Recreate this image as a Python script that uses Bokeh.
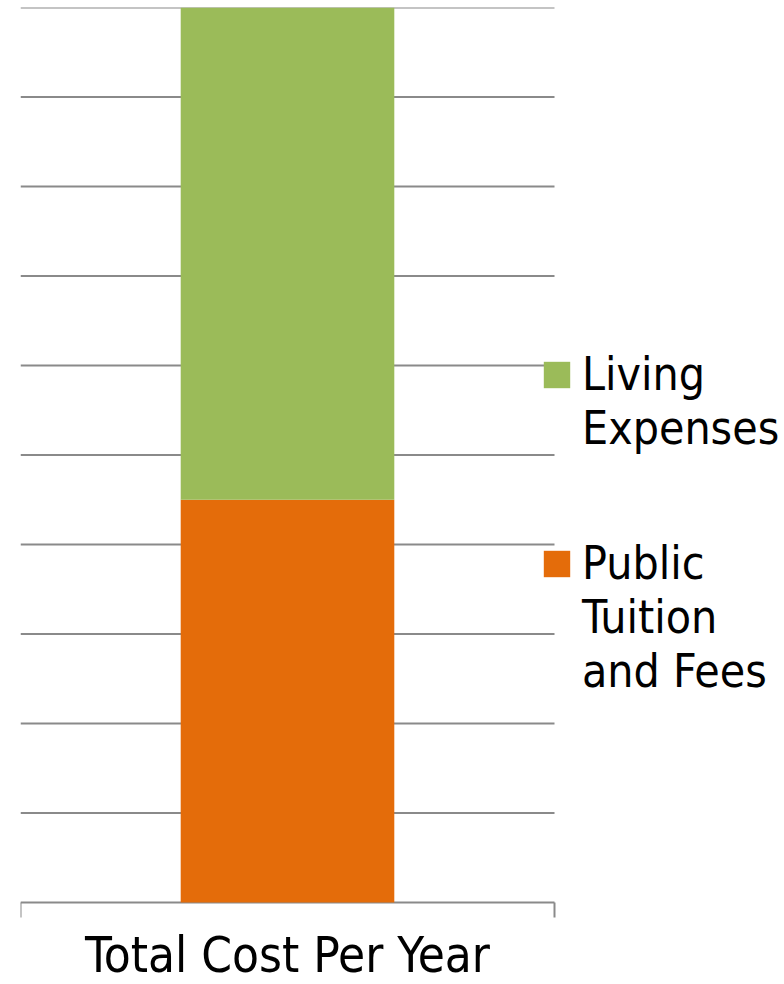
import math
from bokeh.plotting import figure
from bokeh.models import Range1d, Legend, LegendItem, ColumnDataSource
from bokeh.core.properties import value
from bokeh.embed import file_html
from bokeh.resources import INLINE

categories = ["Total Cost Per Year"]
series_names = ["Public\nTuition\nand Fees", "Living\nExpenses"]
tuition = [9000]
living = [11000]
y_ticks = [0, 2000, 4000, 6000, 8000, 10000, 12000, 14000, 16000, 18000, 20000]

colors = ["#E46C0A", "#9BBB59"]
grid_color = "#8a8a8a"
FONT = "DejaVu Sans Condensed"

# category band occupies [0, 1] on the x scale
cat_lo, cat_hi = 0.0, 1.0
cat_mid = (cat_lo + cat_hi) / 2

src = ColumnDataSource(dict(x=[cat_mid], tuition=tuition, living=living))

p = figure(width=784, height=984, output_backend="svg", toolbar_location=None,
           x_range=Range1d(cat_lo, 764 / 534), y_range=Range1d(-82 * 20000 / 895, 20000),
           min_border_left=20, min_border_right=0, min_border_top=7, min_border_bottom=0)
p.outline_line_color = None
p.background_fill_color = "white"
p.border_fill_color = "white"
p.axis.visible = False
p.grid.visible = False

# horizontal grid lines across the category band
p.segment(x0=[cat_lo] * len(y_ticks), x1=[cat_hi] * len(y_ticks), y0=y_ticks, y1=y_ticks,
          line_color=grid_color, line_width=2)

rs = p.vbar_stack(["tuition", "living"], x="x", width=0.40, color=colors, source=src,
                  line_color=None)

# category boundary tick marks below the baseline
p.ray(x=[cat_lo, cat_hi], y=[y_ticks[0], y_ticks[0]], length=15, length_units="screen",
      angle=-math.pi / 2, line_color=grid_color, line_width=2)

# category label
p.text(x=[cat_mid], y=[y_ticks[0]], text=categories, text_align="center",
       text_baseline="alphabetic", y_offset=53, text_font=value(FONT),
       text_font_size="49px", text_color="black")


def make_legend(name, renderer, pad_lines, loc):
    lg = Legend(items=[LegendItem(label="\n" * pad_lines + name, renderers=[renderer])],
                location=loc, orientation="vertical")
    lg.label_text_font = FONT
    lg.label_text_font_size = "46px"
    lg.label_text_color = "black"
    lg.glyph_width = 33
    lg.glyph_height = 33
    lg.label_standoff = 9
    lg.padding = 0
    lg.margin = 0
    lg.border_line_color = None
    lg.background_fill_alpha = 0
    p.add_layout(lg, "center")


make_legend(series_names[1], rs[1], 1, (520, 529))
make_legend(series_names[0], rs[0], 2, (520, 286))

open("out.html", "w").write(file_html(p, INLINE))
